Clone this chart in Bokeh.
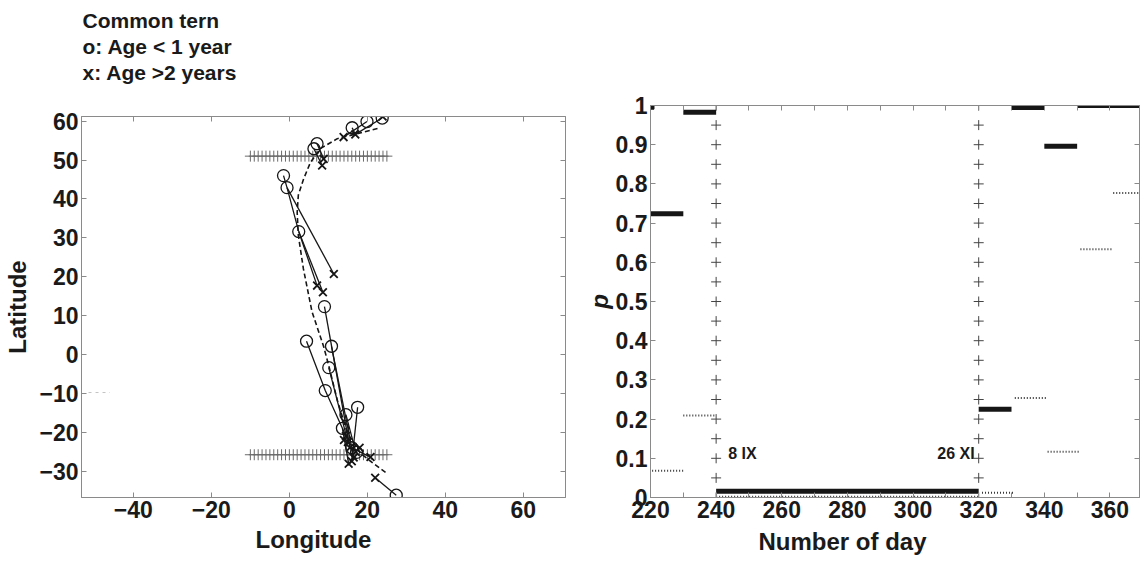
from bokeh.plotting import figure
from bokeh.layouts import row, column
from bokeh.models import LinearAxis, FixedTicker, Label, Range1d, Title
from bokeh.core.properties import value
from bokeh.embed import file_html
from bokeh.resources import INLINE

FONT = "Liberation Sans"
TXT = "#1a1a1a"
AX = "#8a8a8a"
INK = "#161616"

# ---------------- left panel data ----------------
title_lines = ["Common tern", "o: Age < 1 year", "x: Age >2 years"]
lon_label = "Longitude"
lat_label = "Latitude"
lon_ticks = [-40, -20, 0, 20, 40, 60]
lat_ticks = [-30, -20, -10, 0, 10, 20, 30, 40, 50, 60]

track_lons = [
    [23.8, 16.9], [19.9, 13.9], [16.1, 16.9], [7.1, 8.8], [6.3, 8.4],
    [-1.5, -0.6, 2.4], [-0.6, 11.4], [2.4, 7.1], [2.4, 8.6],
    [9.0, 15.5], [4.4, 9.2, 14.5], [10.8, 16.5], [10.1, 15.0],
    [17.5, 16.0], [14.5, 17.0], [13.6, 15.2], [16.0, 20.8], [22.0, 27.4],
]
track_lats = [
    [60.8, 56.6], [59.9, 55.9], [58.3, 56.6], [54.2, 50.3], [52.9, 48.6],
    [46.0, 42.9, 31.6], [42.9, 20.7], [31.6, 17.7], [31.6, 16.0],
    [12.3, -24.0], [3.4, -9.3, -21.0], [2.1, -26.5], [-3.4, -22.5],
    [-13.6, -27.5], [-15.5, -25.0], [-19.0, -28.1], [-24.0, -26.4], [-31.7, -36.2],
]
circle_lon = [23.8, 19.9, 16.1, 7.1, 6.3, -1.5, -0.6, 2.4, 9.0, 4.4, 10.8, 10.1,
              9.2, 17.5, 14.5, 13.6, 16.0, 17.2, 27.4]
circle_lat = [60.8, 59.9, 58.3, 54.2, 52.9, 46.0, 42.9, 31.6, 12.3, 3.4, 2.1, -3.4,
              -9.3, -13.6, -15.5, -19.0, -24.0, -25.2, -36.2]
cross_lon = [23.9, 16.9, 13.9, 8.8, 8.4, 11.4, 7.1, 8.6, 15.5, 14.5, 16.5, 15.0,
             16.0, 17.0, 15.2, 20.8, 22.0, 14.0, 18.0]
cross_lat = [61.2, 56.6, 55.9, 50.3, 48.6, 20.7, 17.7, 16.0, -24.0, -21.0, -26.5, -22.5,
             -27.5, -25.0, -28.1, -26.4, -31.7, -22.0, -24.0]
curve_lon = [22.6, 17.4, 12.3, 8.0, 5.4, 3.6, 2.3, 2.0, 2.3, 3.6, 5.8, 8.8, 10.2,
             12.3, 14.9, 18.2, 21.5, 25.0]
curve_lat = [58.1, 56.8, 55.5, 53.0, 49.4, 45.0, 41.0, 36.5, 30.6, 22.0, 11.0, 2.0, -3.3,
             -11.8, -20.3, -25.4, -28.0, -30.6]
grid_lon = [-10, -9, -8, -7, -6, -5, -4, -3, -2, -1, 0, 1, 2, 3, 4, 5, 6, 7, 8, 9, 10,
            11, 12, 13, 14, 15, 16, 17, 18, 19, 20, 21, 22, 23, 24, 25]
grid_lats = [51.0, -25.8]
faint_lon = [-51.5, -46.0]
faint_lat = [-9.8, -9.8]

# ---------------- right panel data ----------------
day_label = "Number of day"
p_label = "p"
day_ticks = [220, 240, 260, 280, 300, 320, 340, 360]
day_minor = [230, 250, 270, 290, 310, 330, 350]
p_ticks = [0, 0.1, 0.2, 0.3, 0.4, 0.5, 0.6, 0.7, 0.8, 0.9, 1]
thick_start = [220, 230, 240, 320, 330, 340, 350]
thick_end = [230, 240, 320, 330, 340, 350, 370]
thick_p = [0.724, 0.983, 0.016, 0.225, 0.995, 0.896, 1.0]
dot_start = [220.5, 230, 240, 321, 331, 341, 351, 361]
dot_end = [230, 239.5, 320, 330.5, 340.5, 350.5, 361, 370]
dot_p = [0.068, 0.209, 0.002, 0.012, 0.254, 0.117, 0.633, 0.777]
corner_day = [220.3]
corner_p = [0.997]
date_days = [240, 320]
date_labels = ["8 IX", "26 XI"]
date_label_p = 0.112
plus_p = [0, 0.05, 0.1, 0.15, 0.2, 0.25, 0.3, 0.35, 0.4, 0.45, 0.5, 0.55, 0.6,
          0.65, 0.7, 0.75, 0.8, 0.85, 0.9, 0.95, 1.0]

# ---------------- layout constants (pixels) ----------------
HEAD_H = 84                      # height of the text block above the left panel
HEAD_LEFT = 82                   # left edge of the header text
HEAD_BASELINES = [20, 45.5, 72]  # text positions measured from the top of the block


def style_axis(ax, ticks, show_labels=True, size="23px", label_size="24px"):
    ax.axis_line_color = AX
    ax.major_tick_line_color = AX
    ax.minor_tick_line_color = AX
    ax.major_tick_in = 5
    ax.major_tick_out = 0
    ax.minor_tick_in = 5
    ax.minor_tick_out = 0
    if show_labels:
        ax.major_label_text_font = FONT
        ax.major_label_text_font_style = "bold"
        ax.major_label_text_font_size = size
        ax.major_label_text_color = TXT
        ax.major_label_standoff = 3
        ax.axis_label_text_font = FONT
        ax.axis_label_text_font_style = "bold"
        ax.axis_label_text_font_size = label_size
        ax.axis_label_text_color = TXT
    else:
        ax.major_label_overrides = {t: "" for t in ticks}
        ax.major_label_text_font_size = "1px"
        ax.major_label_standoff = 0


def minus(t):
    return ("\u2212" + str(-t)) if t < 0 else str(t)


def below_title(text, offset, standoff):
    return Title(text=text, align="left", offset=offset, standoff=standoff,
                 text_font=FONT, text_font_style="bold", text_font_size="24px",
                 text_color=TXT)


# ================= header block =================
head = figure(width=581, height=HEAD_H, x_range=Range1d(0, 581), y_range=Range1d(0, HEAD_H),
              x_axis_type=None, y_axis_type=None, output_backend="svg",
              toolbar_location=None, min_border=0)
head.frame_align = False
head.grid.visible = False
head.outline_line_color = None
head.text(x=[HEAD_LEFT] * len(title_lines), y=[HEAD_H - b for b in HEAD_BASELINES],
          text=title_lines, text_font=value(FONT), text_font_style="bold",
          text_font_size="21px", text_color=TXT, text_baseline="alphabetic",
          text_align="left")

# ================= left figure =================
p1 = figure(width=581, height=561 - HEAD_H,
            x_range=Range1d(-53.3, 70.8), y_range=Range1d(-36.8, 61.2),
            output_backend="svg", toolbar_location=None,
            min_border_left=81, min_border_right=16, min_border_top=116 - HEAD_H,
            min_border_bottom=64, y_axis_label=lat_label)
p1.frame_align = False
p1.grid.visible = False
p1.outline_line_color = AX
p1.xaxis.ticker = FixedTicker(ticks=lon_ticks, minor_ticks=[])
p1.yaxis.ticker = FixedTicker(ticks=lat_ticks, minor_ticks=[])
p1.xaxis.major_label_overrides = {t: minus(t) for t in lon_ticks}
p1.yaxis.major_label_overrides = {t: minus(t) for t in lat_ticks}
style_axis(p1.xaxis[0], lon_ticks)
style_axis(p1.yaxis[0], lat_ticks)
p1.yaxis.axis_label_standoff = 5
top1 = LinearAxis(ticker=FixedTicker(ticks=lon_ticks, minor_ticks=[]))
style_axis(top1, lon_ticks, show_labels=False)
p1.add_layout(top1, "above")
right1 = LinearAxis(ticker=FixedTicker(ticks=lat_ticks, minor_ticks=[]))
style_axis(right1, lat_ticks, show_labels=False)
p1.add_layout(right1, "right")
p1.add_layout(below_title(lon_label, 174, 6), "below")

p1.line(faint_lon, faint_lat, line_color="#c4c4c4", line_dash="3 4", line_width=1)
for glat in grid_lats:
    p1.scatter(grid_lon, [glat] * len(grid_lon), marker="cross", size=11,
               line_color="#6a6a6a", line_width=1)
p1.line(curve_lon, curve_lat, line_color=INK, line_dash="5 3", line_width=1.6)
p1.multi_line(track_lons, track_lats, line_color=INK, line_width=1.3)
p1.scatter(circle_lon, circle_lat, marker="circle", size=12, fill_color=None,
           line_color=INK, line_width=1.3)
p1.scatter(cross_lon, cross_lat, marker="x", size=11, line_color=INK, line_width=1.8)

# ================= right figure =================
p2 = figure(width=559, height=561,
            x_range=Range1d(220, 369), y_range=Range1d(0, 1),
            output_backend="svg", toolbar_location=None,
            min_border_left=69, min_border_right=1, min_border_top=105, min_border_bottom=64,
            y_axis_label=p_label)
p2.frame_align = False
p2.grid.visible = False
p2.outline_line_color = AX
p2.xaxis.ticker = FixedTicker(ticks=day_ticks, minor_ticks=day_minor)
p2.yaxis.ticker = FixedTicker(ticks=p_ticks, minor_ticks=[])
p2.yaxis.major_label_overrides = {0: "0", 1: "1"}
style_axis(p2.xaxis[0], day_ticks)
style_axis(p2.yaxis[0], p_ticks)
p2.yaxis.axis_label_text_font_style = "bold italic"
p2.yaxis.axis_label_standoff = 0
top2 = LinearAxis(ticker=FixedTicker(ticks=day_ticks, minor_ticks=day_minor))
style_axis(top2, day_ticks, show_labels=False)
p2.add_layout(top2, "above")
right2 = LinearAxis(ticker=FixedTicker(ticks=p_ticks, minor_ticks=[]))
style_axis(right2, p_ticks, show_labels=False)
p2.add_layout(right2, "right")
p2.add_layout(below_title(day_label, 108, 10), "below")

for d in date_days:
    p2.scatter([d] * len(plus_p), plus_p, marker="cross", size=10,
               line_color="#444444", line_width=1)
p2.segment(x0=dot_start, y0=dot_p, x1=dot_end, y1=dot_p,
           line_color="#333333", line_width=2, line_dash="1 2")
p2.segment(x0=thick_start, y0=thick_p, x1=thick_end, y1=thick_p,
           line_color=INK, line_width=5, line_cap="butt")
p2.scatter(corner_day, corner_p, marker="square", size=5, color=INK)

offsets = [12, -4]
aligns = ["left", "right"]
for d, txt, off, al in zip(date_days, date_labels, offsets, aligns):
    p2.add_layout(Label(x=d, y=date_label_p, x_offset=off, text=txt,
                        text_font=FONT, text_font_style="bold", text_font_size="16px",
                        text_color=TXT, text_baseline="middle", text_align=al))

layout = row(column(head, p1), p2)
open("out.html", "w").write(file_html(layout, INLINE))
